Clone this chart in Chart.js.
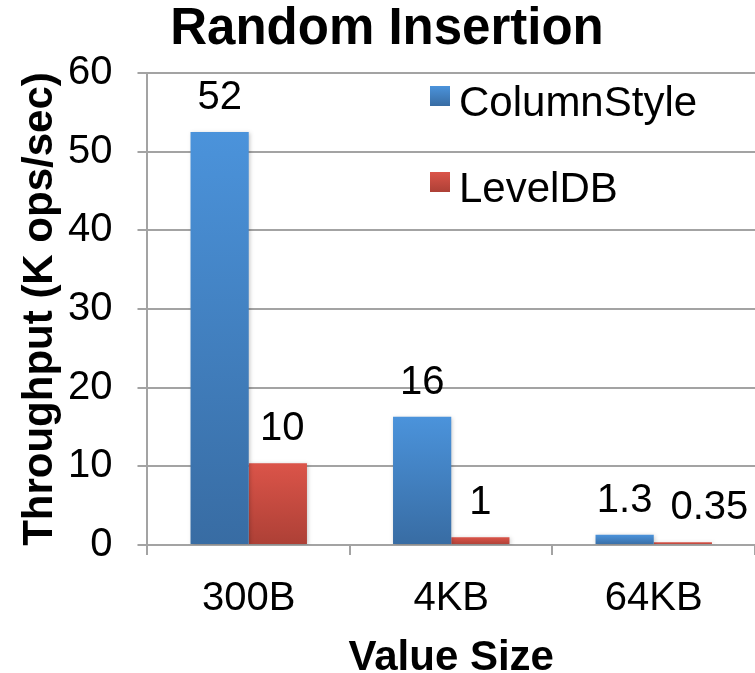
<!DOCTYPE html>
<html>
<head>
<meta charset="utf-8">
<script src="https://cdn.jsdelivr.net/npm/chart.js@4.4.1/dist/chart.umd.min.js"></script>
<style>
  html, body { margin: 0; padding: 0; background: #fff; }
  #wrap { width: 755px; height: 673px; position: relative; }
</style>
</head>
<body>
<div id="wrap"><canvas id="chart"></canvas></div>
<script>
// --- data ---
const categories = ['300B', '4KB', '64KB'];
const seriesNames = ['ColumnStyle', 'LevelDB'];
const columnStyle = [52.5, 16.3, 1.3];
const levelDB = [10.4, 1.0, 0.35];
const columnStyleLabels = ['52', '16', '1.3'];
const levelDBLabels = ['10', '1', '0.35'];
const yMin = 0, yMax = 60, yStep = 10;

const FONT = '"Liberation Sans", Arial, Helvetica, sans-serif';
const GRID = '#a3a3a3';

// vertical gradient per bar: light at the top of the bar, darker at the base
function barGradient(top, bottom) {
    return ctx => {
        const chart = ctx.chart;
        if (!chart.chartArea || ctx.raw === undefined) return top;
        const y = chart.scales.y;
        const yTop = y.getPixelForValue(ctx.raw);
        const yBase = y.getPixelForValue(0);
        if (yBase - yTop < 1) return top;
        const g = chart.ctx.createLinearGradient(0, yTop, 0, yBase);
        g.addColorStop(0, top);
        g.addColorStop(1, bottom);
        return g;
    };
}

// soft drop shadow under the bars
const barShadow = {
    id: 'barShadow',
    beforeDatasetsDraw(chart) {
        const ctx = chart.ctx;
        ctx.save();
        ctx.shadowColor = 'rgba(0,0,0,0.22)';
        ctx.shadowBlur = 4;
        ctx.shadowOffsetX = 1;
        ctx.shadowOffsetY = 1;
    },
    afterDatasetsDraw(chart) {
        chart.ctx.restore();
    }
};

// value labels above each bar; a label that would run into its neighbour is pushed right
const valueLabels = {
    id: 'valueLabels',
    afterDatasetsDraw(chart) {
        const ctx = chart.ctx;
        ctx.save();
        ctx.font = '40px ' + FONT;
        ctx.fillStyle = '#000';
        ctx.textAlign = 'left';
        ctx.textBaseline = 'alphabetic';
        chart.data.labels.forEach((_, j) => {
            let lastRight = -Infinity;
            chart.data.datasets.forEach((ds, i) => {
                const bar = chart.getDatasetMeta(i).data[j];
                const text = ds.valueText[j];
                const w = ctx.measureText(text).width;
                let left = bar.x - w / 2;
                if (left < lastRight + 18) left = lastRight + 18;
                ctx.fillText(text, left, bar.y - 23);
                lastRight = left + w;
            });
        });
        ctx.restore();
    }
};

// legend sits inside the plot, upper right, stacked
const insideLegend = {
    id: 'insideLegend',
    afterDraw(chart) {
        const ctx = chart.ctx;
        const x = 430, y0 = 86, gap = 86, box = 20;
        ctx.save();
        ctx.font = '42px ' + FONT;
        ctx.textBaseline = 'middle';
        ctx.textAlign = 'left';
        chart.data.datasets.forEach((ds, i) => {
            const y = y0 + i * gap;
            const g = ctx.createLinearGradient(0, y, 0, y + box);
            g.addColorStop(0, ds.swatch[0]);
            g.addColorStop(1, ds.swatch[1]);
            ctx.fillStyle = g;
            ctx.fillRect(x, y, box, box);
            ctx.fillStyle = '#000';
            ctx.fillText(ds.label, x + 29, y + 18);
        });
        ctx.restore();
    }
};

new Chart(document.getElementById('chart'), {
    type: 'bar',
    data: {
        labels: categories,
        datasets: [
            {
                label: seriesNames[0], data: columnStyle, valueText: columnStyleLabels,
                swatch: ['#4b93db', '#386ca3'],
                backgroundColor: barGradient('#4b93db', '#386ca3'),
                categoryPercentage: 0.575, barPercentage: 1.0
            },
            {
                label: seriesNames[1], data: levelDB, valueText: levelDBLabels,
                swatch: ['#db5449', '#ad4036'],
                backgroundColor: barGradient('#db5449', '#ad4036'),
                categoryPercentage: 0.575, barPercentage: 1.0
            }
        ]
    },
    options: {
        responsive: true,
        maintainAspectRatio: false,
        animation: false,
        layout: { padding: { left: 19, right: 0, top: 0, bottom: 0 } },
        plugins: {
            legend: { display: false },
            tooltip: { enabled: false },
            title: {
                display: true,
                text: 'Random Insertion',
                color: '#000',
                font: { family: FONT, size: 51, weight: 'bold', lineHeight: 1.1 },
                padding: { top: 2, bottom: 15 }
            }
        },
        scales: {
            x: {
                grid: { drawOnChartArea: false, drawTicks: true, tickLength: 10, color: GRID, lineWidth: 2 },
                border: { color: GRID, width: 2 },
                ticks: { color: '#000', padding: 24, font: { family: FONT, size: 40, lineHeight: 1 } },
                title: {
                    display: true, text: 'Value Size', color: '#000',
                    font: { family: FONT, size: 42, weight: 'bold', lineHeight: 1 },
                    padding: { top: -6, bottom: -6 }
                }
            },
            y: {
                min: yMin, max: yMax,
                grid: { color: GRID, lineWidth: 2, tickLength: 10 },
                border: { color: GRID, width: 2 },
                ticks: { stepSize: yStep, color: '#000', padding: 25, font: { family: FONT, size: 40, lineHeight: 1 } },
                title: {
                    display: true, text: 'Throughput (K ops/sec)', color: '#000',
                    font: { family: FONT, size: 42, weight: 'bold', lineHeight: 1 },
                    padding: { top: 0, bottom: -18 }
                }
            }
        }
    },
    plugins: [barShadow, valueLabels, insideLegend]
});
</script>
</body>
</html>
